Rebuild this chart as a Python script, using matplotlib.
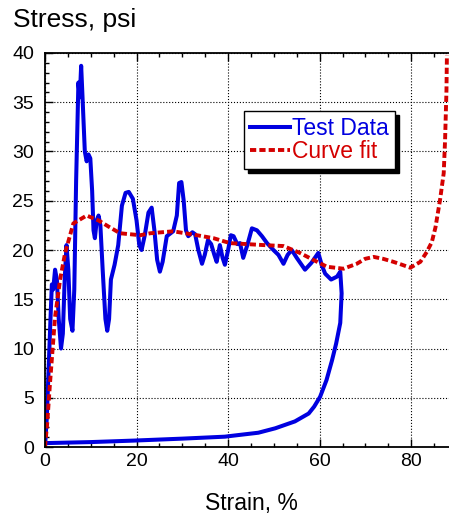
import matplotlib.pyplot as plt
from matplotlib.ticker import MultipleLocator

plt.rcParams['font.family'] = ['Liberation Sans', 'DejaVu Sans']

# test data: loading path, then the unloading path back to zero
test_strain = [0, 0.4, 0.8, 1.2, 1.5, 1.8, 2.2, 2.6, 3.0, 3.5, 3.9, 4.3, 4.7, 5.1, 5.5,
               6.0, 6.4, 6.8, 7.3, 7.6, 7.9, 8.2, 8.7, 9.1, 9.5, 9.9, 10.3, 10.6, 10.9,
               11.3, 11.7, 12.1, 12.6, 13.2, 13.6, 14.0, 14.4, 15.2, 16.0, 16.8, 17.6,
               18.3, 19.2, 20.0, 20.6, 21.1, 21.8, 22.6, 23.3, 23.9, 24.5, 25.1, 25.7,
               26.6, 28.0, 28.8, 29.3, 29.8, 30.3, 30.8, 31.3, 32.2, 32.8, 33.5, 34.3,
               34.9, 35.6, 36.3, 37.0, 37.5, 38.2, 38.8, 39.3, 40.0, 40.6, 41.2, 42.0,
               42.6, 43.3, 44.2, 45.2, 46.3, 47.4, 48.5, 49.9, 51.0, 52.1, 53.0, 53.9,
               55.0, 56.8, 58.2, 59.7, 60.5, 61.2, 62.5, 63.8, 64.5, 64.8, 64.5, 63.6,
               62.7, 61.5, 60.1, 58.8, 57.6, 54.6, 50.3, 46.6, 42.0, 39.3, 30.0, 19.3,
               10.0, 0.4, 0]
test_stress = [0, 3, 8, 13, 16.5, 16, 18, 17, 13, 10, 11.5, 17, 20.5, 18, 13,
               11.8, 16, 27, 37, 35.5, 38.7, 35.5, 30, 29, 29.7, 29.3, 26, 22, 21.2,
               23, 23.5, 22.5, 18, 13, 11.8, 13, 17, 18.5, 20.5, 24.5, 25.8,
               25.9, 25.2, 23, 20.5, 20.0, 21.5, 23.8, 24.3, 22, 19, 17.8, 18.8,
               21.4, 21.9, 23.5, 26.8, 26.9, 25, 22, 21.4, 21.8, 21.6, 20, 18.6,
               19.5, 21, 20.6, 19.5, 18.8, 20.5, 19.2, 18.5, 20, 21.5, 21.4, 20.6,
               20.7, 19.2, 20.5, 22.2, 22.0, 21.4, 20.7, 20.0, 19.5, 18.6, 19.5, 20.0,
               19.2, 18.0, 18.7, 19.7, 18.4, 17.6, 17.0, 17.3, 17.8, 15.6, 12.6, 10.5,
               8.8, 6.8, 5.1, 4.1, 3.4, 2.6, 1.9, 1.45, 1.2, 1.05, 0.85, 0.65,
               0.5, 0.4, 0.3]

fit_strain = [0, 0.5, 1.1, 2.2, 3.3, 4.4, 6.2, 9.1, 11.7, 13.8, 16.4, 20.8, 23, 28,
              33.2, 36.8, 40.4, 47.7, 52.1, 55.7, 58.6, 61.6, 65.2, 68.1, 69.9, 71.8,
              73.9, 76.1, 78, 79.8, 82, 83.4, 84.5, 85.3, 86.3, 87.1, 87.4, 87.7, 87.8]
fit_stress = [0, 2.5, 6.5, 13.2, 17, 19.7, 22.7, 23.5, 23.0, 22.4, 21.7, 21.5, 21.7, 21.9,
              21.5, 21.2, 20.7, 20.5, 20.4, 19.7, 19.0, 18.3, 18.1, 18.6, 19.1, 19.3,
              19.1, 18.8, 18.5, 18.2, 18.8, 19.8, 20.8, 22.3, 25.1, 27.8, 31.2, 36.2, 39.8]

fig = plt.figure(figsize=(4.49, 5.16), dpi=100)
ax = fig.add_axes([0.1002, 0.1337, 0.9176, 0.7636])

ax.plot(test_strain, test_stress, color='#0000e0', lw=2.9, label='Test Data')
ax.plot(fit_strain, fit_stress, color='#d40000', lw=2.8, linestyle=(0, (1.6, 0.8)),
        label='Curve fit')

ax.set_xlim(0, 90)
ax.set_ylim(0, 40)
ax.xaxis.set_major_locator(MultipleLocator(20))
ax.xaxis.set_minor_locator(MultipleLocator(5))
ax.yaxis.set_major_locator(MultipleLocator(5))
ax.yaxis.set_minor_locator(MultipleLocator(1))
ax.tick_params(which='both', direction='in', top=True, right=True, labelsize=14,
               width=1, colors='black')
ax.tick_params(which='major', length=6)
ax.tick_params(axis='y', which='major', pad=8)
ax.tick_params(axis='x', which='major', pad=4.5)
ax.tick_params(which='minor', length=3)
ax.grid(True, which='major', color='black', linestyle=':', lw=0.8)
for s in ax.spines.values():
    s.set_linewidth(1.3)

fig.text(0.029, 0.948, 'Stress, psi', fontsize=19, ha='left', va='baseline')
fig.text(0.559, 0.0125, 'Strain, %', fontsize=16.5, ha='center', va='baseline')

leg = ax.legend(loc='upper left', bbox_to_anchor=(0.483, 0.852), fontsize=16.5,
                frameon=True, fancybox=False,
                shadow={'color': 'black', 'alpha': 1, 'ox': 3, 'oy': -3},
                handlelength=1.75, handletextpad=0.1, borderpad=0.25, labelspacing=0.0,
                borderaxespad=0)
leg.get_frame().set_edgecolor('black')
leg.get_frame().set_linewidth(1.0)
for text, c in zip(leg.get_texts(), ['#0000e0', '#d40000']):
    text.set_color(c)

fig.savefig('out.png', dpi=100)
